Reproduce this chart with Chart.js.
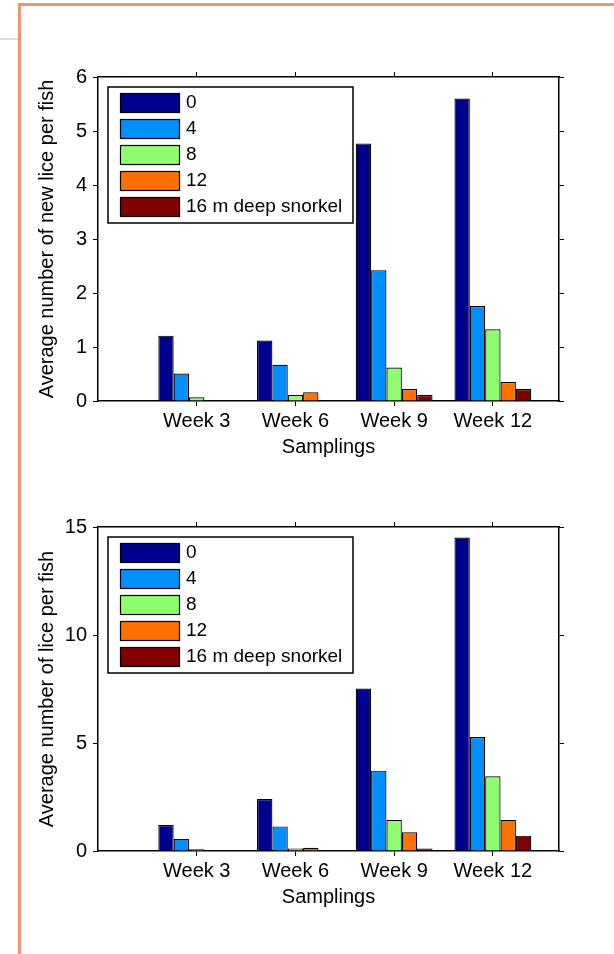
<!DOCTYPE html>
<html>
<head>
<meta charset="utf-8">
<title>Lice per fish</title>
<script src="https://cdn.jsdelivr.net/npm/chart.js@4.4.1/dist/chart.umd.min.js"></script>
<style>
  html, body { margin: 0; padding: 0; background: #fff; }
  body { width: 614px; height: 954px; position: relative; overflow: hidden; }
  canvas { position: absolute; left: 0; }
  #newLice { top: 0; }
  #allLice { top: 450px; }
  .frame { position: absolute; background: #ee9472; }
  .frame.top { left: 18px; top: 3px; width: 596px; height: 3px; }
  .frame.left { left: 18px; top: 3px; width: 3px; height: 951px; }
  .grey { position: absolute; left: 0; top: 38px; width: 18px; height: 2px; background: #dcdcdc; }
</style>
</head>
<body>
<canvas id="newLice" width="614" height="470"></canvas>
<canvas id="allLice" width="614" height="470"></canvas>
<div class="frame top"></div>
<div class="frame left"></div>
<div class="grey"></div>

<script>
const weeks = ['Week 3', 'Week 6', 'Week 9', 'Week 12'];
const depths = ['0', '4', '8', '12', '16 m deep snorkel'];
const depthColors = ['#00008f', '#008fff', '#8fff70', '#ff7000', '#800000'];

// average number of NEW lice per fish, one array per depth
const newLice0 = [1.21, 1.12, 4.77, 5.60];
const newLice4 = [0.51, 0.67, 2.42, 1.76];
const newLice8 = [0.07, 0.11, 0.62, 1.33];
const newLice12 = [0, 0.16, 0.22, 0.35];
const newLice16 = [0, 0, 0.11, 0.22];
const newLiceTicks = [0, 1, 2, 3, 4, 5, 6];

// average number of lice per fish
const lice0 = [1.20, 2.41, 7.52, 14.51];
const lice4 = [0.56, 1.14, 3.72, 5.28];
const lice8 = [0.08, 0.12, 1.44, 3.46];
const lice12 = [0.02, 0.15, 0.87, 1.44];
const lice16 = [0, 0, 0.11, 0.71];
const liceTicks = [0, 5, 10, 15];

const axisFont = { family: '"Liberation Sans", Arial, sans-serif', size: 20 };

// legend drawn as a boxed list inside the plot, like the matlab one
const boxLegend = {
    id: 'boxLegend',
    afterDatasetsDraw(chart) {
        const ctx = chart.ctx;
        const x = chart.chartArea.left + 10;
        const y = chart.chartArea.top + 10;
        ctx.save();
        ctx.fillStyle = '#fff';
        ctx.fillRect(x, y, 245, 136);
        ctx.strokeStyle = '#000';
        ctx.lineWidth = 1.5;
        ctx.strokeRect(x, y, 245, 136);
        ctx.font = '19px "Liberation Sans", Arial, sans-serif';
        ctx.textBaseline = 'middle';
        chart.data.datasets.forEach((ds, i) => {
            const ry = y + 6 + i * 26;
            ctx.fillStyle = ds.backgroundColor;
            ctx.fillRect(x + 12, ry, 59, 19);
            ctx.lineWidth = 1.2;
            ctx.strokeRect(x + 12.5, ry + 0.5, 59, 19);
            ctx.fillStyle = '#000';
            ctx.fillText(ds.label, x + 78, ry + 10);
        });
        ctx.restore();
    }
};

function weekTicks(scale) {
    scale.ticks = weeks.map((w, i) => ({ value: i + 1 }));
}

function liceChart(id, series, yTicks, yTitle) {
    const yMax = yTicks[yTicks.length - 1];
    const valueTicks = scale => { scale.ticks = yTicks.map(v => ({ value: v })); };
    const edge = { color: '#000', width: 1.5 };
    const marks = { drawOnChartArea: false, offset: false, tickLength: 5, color: '#000' };

    return new Chart(document.getElementById(id), {
        type: 'bar',
        data: {
            labels: weeks.map((w, i) => i + 1),
            datasets: series.map((values, i) => ({
                label: depths[i],
                data: values,
                backgroundColor: depthColors[i],
                borderColor: '#000',
                borderWidth: 1.2,
                categoryPercentage: 0.778,
                barPercentage: 1
            }))
        },
        options: {
            responsive: false,
            animation: false,
            layout: { padding: 0 },
            plugins: { legend: { display: false }, tooltip: { enabled: false } },
            scales: {
                x: {
                    type: 'linear', position: 'bottom', min: 0, max: 4.67, offset: false,
                    afterBuildTicks: weekTicks,
                    afterFit: s => { s.height = 69; },
                    grid: marks, border: edge,
                    ticks: { callback: v => weeks[v - 1], font: axisFont, color: '#000', padding: 3.5, maxRotation: 0, autoSkip: false },
                    title: { display: true, text: 'Samplings', font: axisFont, color: '#000', padding: { top: 0, bottom: 11 } }
                },
                x2: {
                    type: 'linear', position: 'top', min: 0, max: 4.67, offset: false,
                    afterBuildTicks: weekTicks,
                    afterFit: s => { s.height = 77; },
                    grid: marks, border: edge,
                    ticks: { display: false }
                },
                y: {
                    type: 'linear', position: 'left', min: 0, max: yMax,
                    afterBuildTicks: valueTicks,
                    afterFit: s => { s.width = 98; },
                    grid: marks, border: edge,
                    ticks: { font: axisFont, color: '#000', padding: 6 },
                    title: { display: true, text: yTitle, font: axisFont, color: '#000', padding: { top: 35, bottom: 0 } }
                },
                y2: {
                    type: 'linear', position: 'right', min: 0, max: yMax,
                    afterBuildTicks: valueTicks,
                    afterFit: s => { s.width = 55; },
                    grid: marks, border: edge,
                    ticks: { display: false }
                }
            }
        },
        plugins: [boxLegend]
    });
}

liceChart('newLice', [newLice0, newLice4, newLice8, newLice12, newLice16], newLiceTicks, 'Average number of new lice per fish');
liceChart('allLice', [lice0, lice4, lice8, lice12, lice16], liceTicks, 'Average number of lice per fish');
</script>
</body>
</html>
